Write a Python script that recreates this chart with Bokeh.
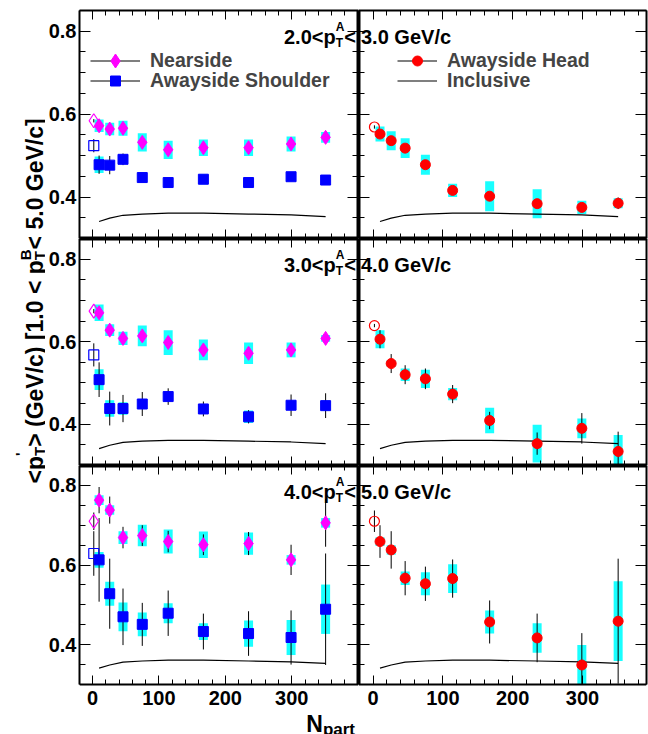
from bokeh.plotting import figure
from bokeh.models import (Range1d, FixedTicker, LinearAxis, Label, Legend,
                          LegendItem, CustomLabelingPolicy)
from bokeh.layouts import row, column
from bokeh.embed import file_html
from bokeh.resources import INLINE

FONT = "Liberation Sans"

# ---------------- data ----------------
npart = [2, 10, 26, 46, 75, 114, 167, 235, 299, 351]   # first entry: p+p (open symbols)

near_23 = [0.584, 0.572, 0.564, 0.566, 0.532, 0.514, 0.519, 0.519, 0.528, 0.544]
near_23_stat = [0.004, 0.005, 0.005, 0.005, 0.004, 0.004, 0.004, 0.004, 0.004, 0.005]
near_23_sys = [0, 0.015, 0.015, 0.018, 0.022, 0.022, 0.020, 0.020, 0.018, 0.013]
shld_23 = [0.524, 0.478, 0.477, 0.491, 0.447, 0.435, 0.443, 0.435, 0.449, 0.441]
shld_23_stat = [0.016, 0.022, 0.022, 0.014, 0.006, 0.005, 0.005, 0.005, 0.005, 0.005]
shld_23_sys = [0, 0.020, 0.010, 0.010, 0.012, 0.008, 0.012, 0.012, 0.008, 0.008]
head_23 = [0.569, 0.552, 0.536, 0.518, 0.478, 0.416, 0.402, 0.384, 0.375, 0.385]
head_23_stat = [0.004, 0.006, 0.008, 0.006, 0.006, 0.005, 0.006, 0.006, 0.008, 0.014]
head_23_sys = [0, 0.018, 0.023, 0.024, 0.024, 0.016, 0.036, 0.035, 0.016, 0.012]

near_34 = [0.674, 0.670, 0.628, 0.608, 0.614, 0.598, 0.580, 0.572, 0.580, 0.608]
near_34_stat = [0.005, 0.006, 0.006, 0.006, 0.006, 0.006, 0.006, 0.006, 0.006, 0.006]
near_34_sys = [0, 0.020, 0.014, 0.016, 0.025, 0.030, 0.025, 0.026, 0.018, 0.008]
shld_34 = [0.568, 0.508, 0.438, 0.438, 0.449, 0.467, 0.437, 0.418, 0.446, 0.445]
shld_34_stat = [0.028, 0.042, 0.041, 0.033, 0.029, 0.020, 0.018, 0.016, 0.026, 0.030]
shld_34_sys = [0, 0.025, 0.020, 0.015, 0.010, 0.008, 0.010, 0.015, 0.008, 0.012]
head_34 = [0.639, 0.606, 0.547, 0.520, 0.510, 0.473, 0.409, 0.353, 0.390, 0.334]
head_34_stat = [0.004, 0.022, 0.023, 0.023, 0.025, 0.022, 0.021, 0.027, 0.037, 0.048]
head_34_sys = [0, 0.022, 0.008, 0.015, 0.022, 0.015, 0.031, 0.046, 0.024, 0.040]

near_45 = [0.710, 0.763, 0.738, 0.669, 0.674, 0.659, 0.651, 0.654, 0.613, 0.706]
near_45_stat = [0.022, 0.033, 0.034, 0.027, 0.026, 0.027, 0.026, 0.029, 0.038, 0.060]
near_45_sys = [0, 0.012, 0.012, 0.016, 0.027, 0.030, 0.033, 0.028, 0.012, 0.012]
shld_45 = [0.629, 0.613, 0.528, 0.470, 0.451, 0.479, 0.433, 0.428, 0.418, 0.489]
shld_45_stat = [0.056, 0.105, 0.088, 0.071, 0.054, 0.057, 0.045, 0.056, 0.068, 0.140]
shld_45_sys = [0, 0.020, 0.030, 0.036, 0.030, 0.025, 0.021, 0.033, 0.044, 0.062]
head_45 = [0.710, 0.659, 0.638, 0.567, 0.553, 0.566, 0.457, 0.417, 0.349, 0.459]
head_45_stat = [0.027, 0.041, 0.047, 0.043, 0.043, 0.048, 0.054, 0.061, 0.080, 0.157]
head_45_sys = [0, 0.011, 0.012, 0.017, 0.029, 0.036, 0.029, 0.037, 0.050, 0.100]

incl_x = [10, 26, 46, 75, 114, 167, 235, 299, 351]
incl_y = [0.341, 0.349, 0.356, 0.359, 0.361, 0.361, 0.359, 0.357, 0.353]

pta_bins = [("2.0", "3.0"), ("3.0", "4.0"), ("4.0", "5.0")]

x_major = [0, 100, 200, 300]
x_labels = ["0", "100", "200", "300"]
x_minor = [-20, 20, 40, 60, 80, 120, 140, 160, 180, 220, 240, 260, 280, 320, 340, 360, 380, 400]
y_major = [0.4, 0.6, 0.8]
y_labels = ["0.4", "0.6", "0.8"]
y_minor = [0.30, 0.35, 0.45, 0.50, 0.55, 0.65, 0.70, 0.75, 0.85]

near = [(near_23, near_23_stat, near_23_sys), (near_34, near_34_stat, near_34_sys), (near_45, near_45_stat, near_45_sys)]
shld = [(shld_23, shld_23_stat, shld_23_sys), (shld_34, shld_34_stat, shld_34_sys), (shld_45, shld_45_stat, shld_45_sys)]
head = [(head_23, head_23_stat, head_23_sys), (head_34, head_34_stat, head_34_sys), (head_45, head_45_stat, head_45_sys)]

# ---------------- geometry / style ----------------
MAGENTA, BLUE, RED, CYAN = "#FF00FF", "#0000FF", "#FF0000", "#00FFFF"
XL = (-19.5, 400.5)
XR = (-20.8, 391.6)
YR = (0.30, 0.85)
TITLE_W, LEFT_W, RIGHT_W = 45, 313, 290
LEFT_BORDER, RIGHT_BORDER = 31, 2
ROW_H = [238, 227, 269]          # canvas heights
TOP_BORDER = 10
ROW3_FRAME, ROW3_LABELS = 219, 50  # bottom row: plotting area + label strip (inside frame)
YB3 = YR[0] - ROW3_LABELS * (YR[1] - YR[0]) / ROW3_FRAME
GAP = 2.5                          # keep split texts clear of the divider

# Arial/Liberation Sans Bold advance widths (per 1000 em)
ADV = {' ': 278, '(': 333, ')': 333, '.': 278, '/': 278, '<': 584, '>': 584,
       '[': 333, ']': 333, "'": 238, 'A': 722, 'B': 722, 'G': 778, 'N': 722,
       'T': 611, 'V': 667, 'a': 556, 'c': 556, 'e': 556, 'p': 611, 'r': 389, 't': 333}


def tw(s, size):
    return sum(ADV.get(ch, 556) for ch in s) * size / 1000.0


def run_width(run):
    return max(tw(t, s) for t, s, _ in run)


def add_runs(p, runs, x, y, dx0, dy0, rotated=False):
    adv = 0.0
    for run in runs:
        for text, size, shift in run:
            kw = dict(text=text, text_font=FONT, text_font_style="bold",
                      text_font_size=f"{size}px", text_color="black",
                      text_align="left", text_baseline="alphabetic")
            if rotated:
                p.add_layout(Label(x=x - shift, y=y + dy0 + adv, angle=90, angle_units="deg", **kw))
            else:
                p.add_layout(Label(x=x, y=y, x_offset=dx0 + adv, y_offset=dy0 + shift, **kw))
        adv += run_width(run)


def style_axis(ax, is_x, labelled, inner):
    ax.ticker = FixedTicker(ticks=x_major if is_x else y_major,
                            minor_ticks=x_minor if is_x else y_minor)
    ax.axis_line_color = "black"
    ax.axis_line_width = 4 if inner else 2
    ax.major_tick_line_color = "black"
    ax.minor_tick_line_color = "black"
    ax.major_tick_line_width = 1
    ax.minor_tick_line_width = 1
    ax.major_tick_in = 9 if is_x else 11
    ax.minor_tick_in = 5 if is_x else 6
    ax.major_tick_out = 0
    ax.minor_tick_out = 0
    if not is_x:
        ax.bounds = YR
    if labelled:
        ax.major_label_text_font = FONT
        ax.major_label_text_font_style = "bold"
        ax.major_label_text_font_size = "20px"
        ax.major_label_text_color = "black"
        ax.major_label_standoff = 6 if is_x else 3
        ticks, labs = (x_major, x_labels) if is_x else (y_major, y_labels)
        ax.major_label_overrides = {t: l for t, l in zip(ticks, labs)}
    else:
        ax.major_label_text_font_size = "0px"
        ax.major_label_standoff = 0
        ax.major_label_policy = CustomLabelingPolicy(
            code="for (const i of indices) { indices.unset(i) }\nreturn indices")


# panel title "lo<pT^A<hi GeV/c": split at the divider between "<" and the upper edge
def title_runs(lo, hi):
    left = [[(f"{lo}<p", 20, 0)], [("T", 12, -5.5), ("A", 12, 10.5)], [("<", 20, 0)]]
    right = [[(f"{hi} GeV/c", 20, 0)]]
    return left, right


figs = []
for r in range(3):
    rowfigs = []
    for c in range(2):
        xr = XL if c == 0 else XR
        yr = YR if r < 2 else (YB3, YR[1])
        p = figure(width=LEFT_W if c == 0 else RIGHT_W, height=ROW_H[r],
                   x_range=Range1d(*xr), y_range=Range1d(*yr),
                   x_axis_type=None, y_axis_type=None,
                   output_backend="svg", toolbar_location=None, min_border=0)
        p.min_border_left = LEFT_BORDER if c == 0 else 0
        p.min_border_right = RIGHT_BORDER if c == 1 else 0
        p.min_border_top = TOP_BORDER if r == 0 else 0
        p.min_border_bottom = 0
        p.outline_line_color = None
        p.background_fill_color = "white"
        p.border_fill_color = "white"

        ax = LinearAxis(); style_axis(ax, False, c == 0, c == 1); p.add_layout(ax, "left")
        ax = LinearAxis(); style_axis(ax, False, False, c == 0); p.add_layout(ax, "right")
        ax = LinearAxis(); style_axis(ax, True, False, r > 0); p.add_layout(ax, "above")
        ax = LinearAxis(fixed_location=YR[0]) if r == 2 else LinearAxis()
        style_axis(ax, True, r == 2, r < 2)
        p.add_layout(ax, "below")

        series = [(near[r], "diamond", MAGENTA, 14), (shld[r], "square", BLUE, 10)] if c == 0 \
            else [(head[r], "circle", RED, 10)]
        # systematic boxes (clamped to the plotting area)
        for (vals, stat, sys), mk, col, sz in series:
            bx, by, bh = [], [], []
            for x, v, s in zip(npart, vals, sys):
                if s > 0:
                    b, t = max(v - s, YR[0]), min(v + s, YR[1])
                    bx.append(x); by.append((b + t) / 2); bh.append(t - b)
            p.rect(x=bx, y=by, width=9, width_units="screen", height=bh,
                   fill_color=CYAN, fill_alpha=0.9, line_color=None)
        incl = p.line(x=incl_x, y=incl_y, line_color="black", line_width=1.2)
        # statistical errors
        for (vals, stat, sys), mk, col, sz in series:
            p.segment(x0=npart, x1=npart,
                      y0=[max(v - s, YR[0]) for v, s in zip(vals, stat)],
                      y1=[min(v + s, YR[1]) for v, s in zip(vals, stat)],
                      line_color="black", line_width=1)
        rends = []
        for (vals, stat, sys), mk, col, sz in series:
            rf = p.scatter(x=npart[1:], y=vals[1:], marker=mk, size=sz,
                           fill_color=col, line_color=col)
            p.scatter(x=npart[:1], y=vals[:1], marker=mk, size=sz,
                      fill_color=None, line_color=col, line_width=1.2)
            rends.append(rf)

        lo, hi = pta_bins[r]
        left_runs, right_runs = title_runs(lo, hi)
        lw = sum(run_width(rn) for rn in left_runs)
        if c == 0:
            add_runs(p, left_runs, xr[1], YR[1], -lw - GAP, -26.5)
        else:
            add_runs(p, right_runs, xr[0], YR[1], GAP, -26.5)

        if r == 2 and c == 0:
            nl = [[("N", 23, 0)], [("part", 17, -6)]]
            nlw = sum(run_width(rn) for rn in nl)
            add_runs(p, nl, xr[1], YR[0], -nlw - GAP - 1, -39)

        if r == 0:
            fh = ROW_H[0] - TOP_BORDER
            common = dict(padding=0, margin=0, border_line_alpha=0, background_fill_alpha=0,
                          label_text_font=FONT, label_text_font_style="bold",
                          label_text_font_size="19.5px", label_standoff=10, label_height=20,
                          spacing=0)
            if c == 0:
                lg1 = Legend(items=[LegendItem(label="Nearside", renderers=[incl, rends[0]])],
                             location=(11, fh - 32.5 - 35), glyph_width=50, glyph_height=35, **common)
                lg2 = Legend(items=[LegendItem(label="Awayside Shoulder", renderers=[incl, rends[1]])],
                             location=(11, fh - 57.5 - 25), glyph_width=50, glyph_height=25, **common)
                p.add_layout(lg1)
                p.add_layout(lg2)
            else:
                lg1 = Legend(items=[LegendItem(label="Awayside Head", renderers=[incl, rends[0]])],
                             location=(39, fh - 37.5 - 25), glyph_width=40, glyph_height=25, **common)
                lg2 = Legend(items=[LegendItem(label="Inclusive", renderers=[incl])],
                             location=(39, fh - 57.5 - 25), glyph_width=40, glyph_height=25, **common)
                p.add_layout(lg1)
                p.add_layout(lg2)
        rowfigs.append(p)
    figs.append(rowfigs)

# y-axis title strip
tot_h = sum(ROW_H)
t = figure(width=TITLE_W, height=tot_h, x_range=Range1d(0, TITLE_W), y_range=Range1d(0, tot_h),
           x_axis_type=None, y_axis_type=None, output_backend="svg", toolbar_location=None,
           min_border=0)
t.outline_line_color = None
t.background_fill_color = "white"
t.border_fill_color = "white"
yruns = [[("<p", 23, 0)], [("T", 15, -5), ("'", 15, 14)], [("> (GeV/c) [1.0 < p", 23, 0)],
         [("T", 15, -5), ("B", 15, 9)], [(" < 5.0 GeV/c]", 23, 0)]]
add_runs(t, yruns, 34, 251, 0, 0, rotated=True)

layout = row(t, column(row(figs[0][0], figs[0][1]), row(figs[1][0], figs[1][1]),
                       row(figs[2][0], figs[2][1])))

open("out.html", "w").write(file_html(layout, INLINE))
